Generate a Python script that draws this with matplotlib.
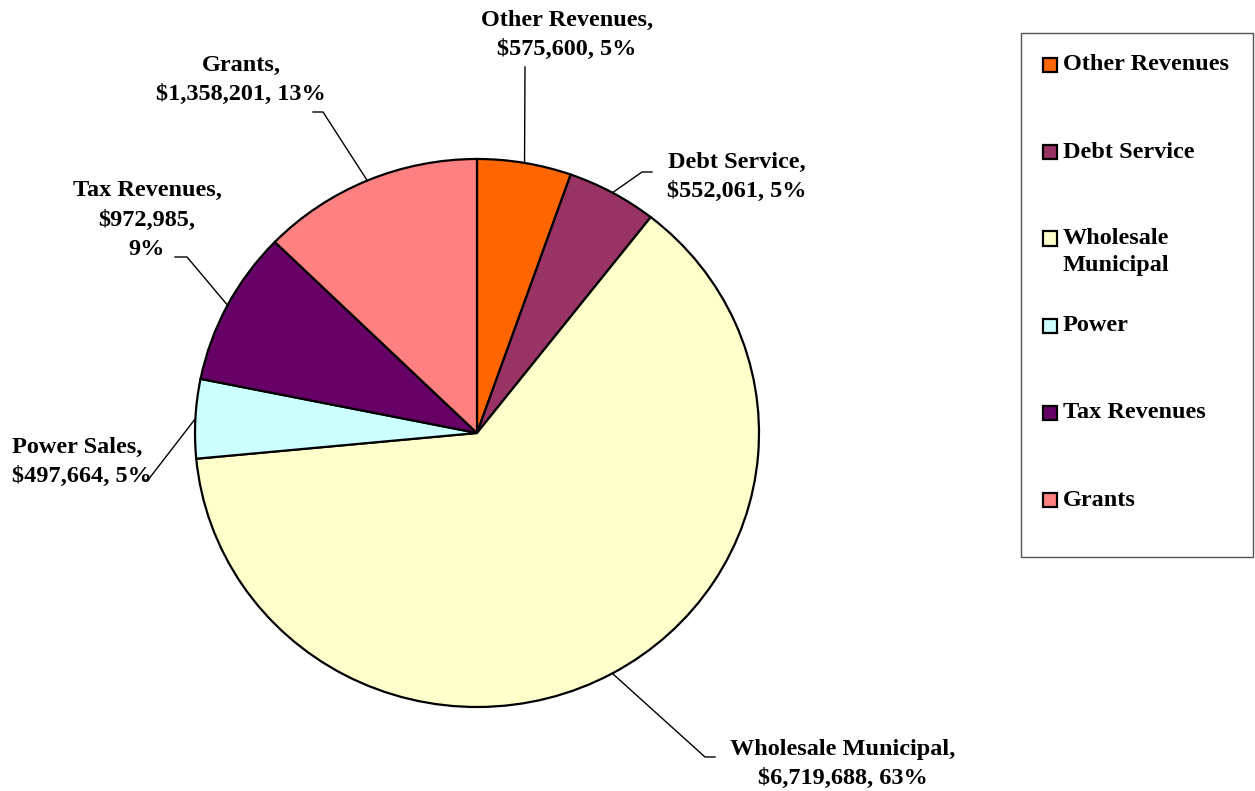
import numpy as np
import matplotlib
matplotlib.use("Agg")
import matplotlib.pyplot as plt
from matplotlib.patches import Rectangle

# ---- data ----
slice_names = ["Other Revenues", "Debt Service", "Wholesale Municipal",
               "Power Sales", "Tax Revenues", "Grants"]
values = [575600, 552061, 6719688, 497664, 972985, 1358201]
label_texts = ["Other Revenues,\n$575,600, 5%",
               "Debt Service,\n$552,061, 5%",
               "Wholesale Municipal,\n$6,719,688, 63%",
               "Power Sales,\n$497,664, 5%",
               "Tax Revenues,\n$972,985,\n9%",
               "Grants,\n$1,358,201, 13%"]
legend_labels = ["Other Revenues", "Debt Service", "Wholesale\nMunicipal",
                 "Power", "Tax Revenues", "Grants"]
colors = ["#FF6600", "#993366", "#FFFFCC", "#CCFFFF", "#660066", "#FF8080"]

W, H = 1255, 791
CX, CY, RX, RY = 477, 433, 282, 274
FONT = "Liberation Serif"
FS = 17.5

fig = plt.figure(figsize=(W / 100, H / 100), dpi=100)
ax = fig.add_axes([0, 0, 1, 1])
wedges, _ = ax.pie(values, colors=colors, startangle=90, counterclock=False,
                   wedgeprops=dict(edgecolor="black", linewidth=1.6))
ax.set_aspect("auto")
ax.set_xlim(-CX / RX, (W - CX) / RX)
ax.set_ylim(-(H - CY) / RY, CY / RY)
ax.axis("off")

def d(px, py):
    return (px - CX) / RX, (CY - py) / RY

# label layout (pixel positions): text anchor, alignment, leader elbow points
layout = [
    dict(xy=(567, 35), ha="center", path=[(525, 67)]),
    dict(xy=(737, 177), ha="center", path=[(642, 172), (652, 172)]),
    dict(xy=(843, 764), ha="center", path=[(705, 757), (715, 757)]),
    dict(xy=(12, 462), ha="left", path=[(148, 480), (143, 480)]),
    dict(xy=(147, 220), ha="center", path=[(187, 257), (175, 257)]),
    dict(xy=(241, 80), ha="center", path=[(323, 112), (313, 112)]),
]

for w, txt, lay in zip(wedges, label_texts, layout):
    mid = np.deg2rad((w.theta1 + w.theta2) / 2)
    sx, sy = np.cos(mid), np.sin(mid)
    pts = [(sx, sy)] + [d(*p) for p in lay["path"]]
    xs, ys = zip(*pts)
    ax.plot(xs, ys, color="black", lw=1.0, clip_on=False)
    tx, ty = d(*lay["xy"])
    ax.text(tx, ty, txt, ha=lay["ha"], va="center", multialignment=lay["ha"],
            fontsize=FS, fontweight="bold", family=FONT, linespacing=1.55)

# ---- legend (drawn manually) ----
def f(px, py):
    return px / W, 1 - py / H

x0, y0 = f(1021, 557)
fig.patches.append(Rectangle((x0, y0), (1253 - 1021) / W, (557 - 33) / H,
                             transform=fig.transFigure, facecolor="white",
                             edgecolor="#555555", lw=1.0))
entry_y = [65, 152, 252, 326, 413, 500]
for lab, col, ey in zip(legend_labels, colors, entry_y):
    first_y = ey - 13.5 if "\n" in lab else ey
    sx, sy = f(1043, first_y + 7)
    fig.patches.append(Rectangle((sx, sy), 14 / W, 14 / H,
                                 transform=fig.transFigure, facecolor=col,
                                 edgecolor="black", lw=1.6))
    tx, ty = f(1063, ey)
    fig.text(tx, ty, lab, ha="left", va="center", fontsize=FS,
             fontweight="bold", family=FONT, linespacing=1.4)

fig.savefig("out.png", dpi=100)
